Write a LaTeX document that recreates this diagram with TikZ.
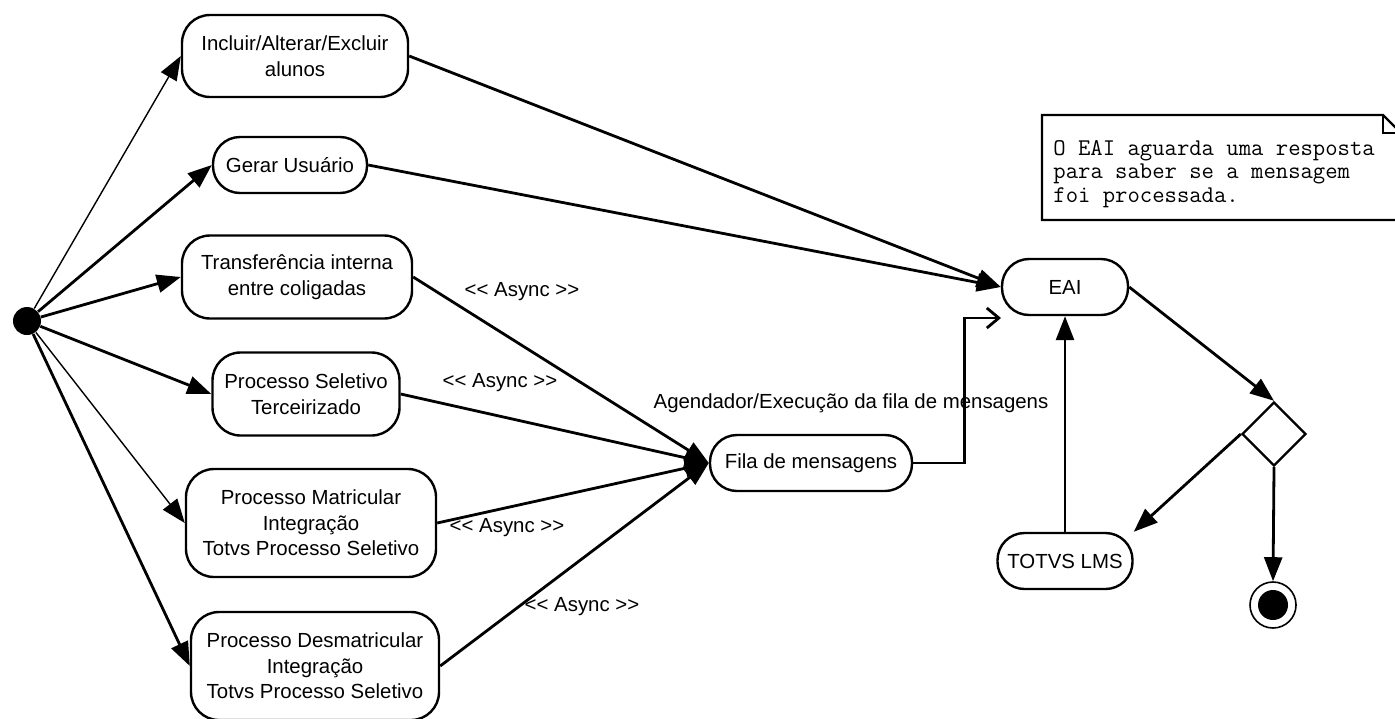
\documentclass[tikz,border=0pt]{standalone}
\usepackage{fontspec}
\setmainfont{Liberation Sans}
\usetikzlibrary{positioning,shapes.geometric,arrows.meta}

\tikzset{
  state/.style={draw,line width=1.2pt,rounded corners=14pt,align=center,
    font=\fontsize{10.2}{12.8}\selectfont,inner sep=2pt},
  pill/.style={state,rounded corners=13.5pt,minimum height=28pt},
  flow/.style={line width=1.4pt,-{Triangle[length=12pt,width=9pt]}},
  thinflow/.style={line width=0.7pt,-{Triangle[length=12pt,width=9pt]}},
  async/.style={font=\fontsize{10.2}{12}\selectfont}
}

\begin{document}
\begin{tikzpicture}[x=0.5pt,y=-0.5pt]
\useasboundingbox (0,0) rectangle (1395,718);

% initial node
\node[circle,fill,minimum size=14pt,inner sep=0] (start) at (27,321) {};

% actions
\node[state,minimum width=113pt,minimum height=41pt] (alunos) at (295,56) {Incluir/Alterar/Excluir\\alunos};
\node[pill,minimum width=77pt] (usuario) at (290,165) {Gerar Usuário};
\node[state,minimum width=115pt,minimum height=41.5pt] (transf) at (297,277) {Transferência interna\\entre coligadas};
\node[state,minimum width=93.5pt,minimum height=41.5pt] (seletivo) at (306,394) {Processo Seletivo\\Terceirizado};
\node[state,minimum width=125pt,minimum height=54pt] (matric) at (311,523) {Processo Matricular\\Integração\\Totvs Processo Seletivo};
\node[state,minimum width=124pt,minimum height=54pt] (desmatric) at (315,666) {Processo Desmatricular\\Integração\\Totvs Processo Seletivo};

\node[pill,minimum width=101pt] (fila) at (811,463) {Fila de mensagens};
\node[pill,minimum width=63pt] (eai) at (1065,287) {EAI};
\node[pill,minimum width=67.5pt] (lms) at (1065,561) {TOTVS LMS};

\node[diamond,draw,line width=1.2pt,minimum width=32pt,minimum height=32pt,inner sep=0] (dec) at (1274,434) {};

% final node
\node[circle,draw,line width=0.8pt,minimum size=23pt,inner sep=0] (final) at (1273,605) {};
\node[circle,fill,minimum size=15pt,inner sep=0] (finaldot) at (final) {};

% note
\draw[line width=1.2pt,fill=white] (1042,115) -- (1383,115) -- (1401,133) -- (1401,220) -- (1042,220) -- cycle;
\draw[line width=1.2pt] (1383,115) |- (1401,133);
\node[anchor=west,align=left,inner sep=0,font=\ttfamily\fontsize{12}{11.8}\selectfont] (nota) at (1053,174)
  {O EAI aguarda uma resposta\\para saber se a mensagem\\foi processada.};

% connectors
\draw[thinflow] (start) -- (alunos.west);
\draw[flow] (start) -- (usuario.west);
\draw[flow] (start) -- (transf.west);
\draw[flow] (start) -- (seletivo.west);
\draw[thinflow] (start) -- (matric.west);
\draw[flow] (start) -- (desmatric.west);

\draw[flow] (alunos.east) -- (eai.west);
\draw[flow] (usuario.east) -- (eai.west);

\draw[flow] (transf.east) -- (fila.west);
\draw[flow] (seletivo.east) -- (fila.west);
\draw[flow] (matric.east) -- (fila.west);
\draw[flow] (desmatric.east) -- (fila.west);

\node[async] (async1) at (522,292) {<{}< Async >{}>};
\node[async] (async2) at (500,383) {<{}< Async >{}>};
\node[async] (async3) at (507,528) {<{}< Async >{}>};
\node[async] (async4) at (582,607) {<{}< Async >{}>};
\node[async] (agenda) at (851,403) {Agendador/Execução da fila de mensagens};

\coordinate (eaiin) at (1001,318);
\draw[line width=1.4pt,-{Straight Barb[length=6pt,width=10pt]}] (fila.east) -- ++(51,0) |- (eaiin);

\draw[flow] (lms.north) -- (eai.south);
\draw[flow] (eai.east) -- (dec.north);
\draw[flow] (dec.west) -- (lms.north east);
\draw[flow] (dec.south) -- (final.north);
\end{tikzpicture}
\end{document}
